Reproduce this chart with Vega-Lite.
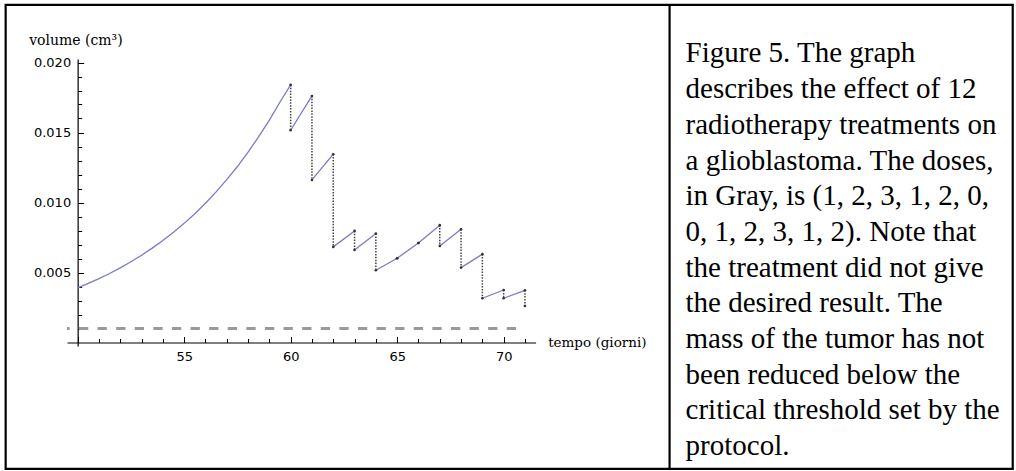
{
  "$schema": "https://vega.github.io/schema/vega-lite/v6.json",
  "background": "white",
  "padding": {"left": 4, "top": 3, "right": 2, "bottom": 1},
  "bounds": "flush",
  "spacing": 149.55,
  "config": {"view": {"stroke": null}},
  "datasets": {
    "curve": [
      {"t": 50, "v": 0.0039, "seg": 0},
      {"t": 50.5, "v": 0.00422, "seg": 0},
      {"t": 51, "v": 0.00456, "seg": 0},
      {"t": 51.5, "v": 0.00493, "seg": 0},
      {"t": 52, "v": 0.00533, "seg": 0},
      {"t": 52.5, "v": 0.00577, "seg": 0},
      {"t": 53, "v": 0.00623, "seg": 0},
      {"t": 53.5, "v": 0.00674, "seg": 0},
      {"t": 54, "v": 0.00728, "seg": 0},
      {"t": 54.5, "v": 0.00787, "seg": 0},
      {"t": 55, "v": 0.00851, "seg": 0},
      {"t": 55.5, "v": 0.0092, "seg": 0},
      {"t": 56, "v": 0.00995, "seg": 0},
      {"t": 56.5, "v": 0.01076, "seg": 0},
      {"t": 57, "v": 0.01163, "seg": 0},
      {"t": 57.5, "v": 0.01257, "seg": 0},
      {"t": 58, "v": 0.01359, "seg": 0},
      {"t": 58.5, "v": 0.0147, "seg": 0},
      {"t": 59, "v": 0.01589, "seg": 0},
      {"t": 59.5, "v": 0.01718, "seg": 0},
      {"t": 60, "v": 0.0184, "seg": 0},
      {"t": 60, "v": 0.01516, "seg": 1},
      {"t": 61, "v": 0.01761, "seg": 1},
      {"t": 61, "v": 0.01161, "seg": 2},
      {"t": 62, "v": 0.01345, "seg": 2},
      {"t": 62, "v": 0.00683, "seg": 3},
      {"t": 63, "v": 0.00797, "seg": 3},
      {"t": 63, "v": 0.00661, "seg": 4},
      {"t": 64, "v": 0.00778, "seg": 4},
      {"t": 64, "v": 0.00516, "seg": 5},
      {"t": 65, "v": 0.00602, "seg": 5},
      {"t": 66, "v": 0.00711, "seg": 5},
      {"t": 67, "v": 0.00838, "seg": 5},
      {"t": 67, "v": 0.0069, "seg": 6},
      {"t": 68, "v": 0.00809, "seg": 6},
      {"t": 68, "v": 0.00535, "seg": 7},
      {"t": 69, "v": 0.00631, "seg": 7},
      {"t": 69, "v": 0.00316, "seg": 8},
      {"t": 70, "v": 0.00375, "seg": 8},
      {"t": 70, "v": 0.00316, "seg": 9},
      {"t": 71, "v": 0.00373, "seg": 9}
    ],
    "doses": [
      {"day": 60, "pre": 0.0184, "post": 0.01516, "dose": 1},
      {"day": 61, "pre": 0.01761, "post": 0.01161, "dose": 2},
      {"day": 62, "pre": 0.01345, "post": 0.00683, "dose": 3},
      {"day": 63, "pre": 0.00797, "post": 0.00661, "dose": 1},
      {"day": 64, "pre": 0.00778, "post": 0.00516, "dose": 2},
      {"day": 65, "pre": 0.00602, "post": 0.00602, "dose": 0},
      {"day": 66, "pre": 0.00711, "post": 0.00711, "dose": 0},
      {"day": 67, "pre": 0.00838, "post": 0.0069, "dose": 1},
      {"day": 68, "pre": 0.00809, "post": 0.00535, "dose": 2},
      {"day": 69, "pre": 0.00631, "post": 0.00316, "dose": 3},
      {"day": 70, "pre": 0.00375, "post": 0.00316, "dose": 1},
      {"day": 71, "pre": 0.00373, "post": 0.00261, "dose": 2}
    ],
    "caption": [
      {"line": 1, "text": "Figure 5. The graph"},
      {"line": 2, "text": "describes the effect of 12"},
      {"line": 3, "text": "radiotherapy treatments on"},
      {"line": 4, "text": "a glioblastoma. The doses,"},
      {"line": 5, "text": "in Gray, is (1, 2, 3, 1, 2, 0,"},
      {"line": 6, "text": "0, 1, 2, 3, 1, 2). Note that"},
      {"line": 7, "text": "the treatment did not give"},
      {"line": 8, "text": "the desired result. The"},
      {"line": 9, "text": "mass of the tumor has not"},
      {"line": 10, "text": "been reduced below the"},
      {"line": 11, "text": "critical threshold set by the"},
      {"line": 12, "text": "protocol."}
    ]
  },
  "hconcat": [
    {
      "width": 468.6,
      "height": 287,
      "layer": [
        {
          "data": {"values": [{}]},
          "mark": {"type": "rect", "filled": false, "color": "black", "strokeWidth": 2.2},
          "encoding": {
            "x": {"datum": 46.62, "type": "quantitative", "scale": {"domain": [49.5, 71.5], "nice": false, "zero": false}},
            "x2": {"datum": 93.9},
            "y": {"datum": -0.009029, "type": "quantitative", "scale": {"domain": [-0.00025, 0.02025], "nice": false, "zero": false}},
            "y2": {"datum": 0.024114}
          }
        },
        {
          "data": {"values": [{}]},
          "mark": {"type": "rule", "color": "black", "strokeWidth": 2.2},
          "encoding": {
            "x": {"datum": 77.79, "type": "quantitative", "scale": {"domain": [49.5, 71.5], "nice": false, "zero": false}},
            "y": {"datum": -0.009029, "type": "quantitative", "scale": {"domain": [-0.00025, 0.02025], "nice": false, "zero": false}},
            "y2": {"datum": 0.024114}
          }
        },
        {
          "data": {"values": [{"threshold": 0.001}]},
          "mark": {"type": "rule", "color": "#9a9a9a", "strokeWidth": 3, "strokeDash": [9.3, 9.3], "strokeDashOffset": 6.65},
          "encoding": {
            "x": {"datum": 49.5, "type": "quantitative", "scale": {"domain": [49.5, 71.5], "nice": false, "zero": false}},
            "x2": {"datum": 70.75},
            "y": {"field": "threshold", "type": "quantitative", "scale": {"domain": [-0.00025, 0.02025], "nice": false, "zero": false}}
          }
        },
        {
          "data": {"name": "doses"},
          "transform": [{"filter": "datum.dose > 0"}],
          "mark": {"type": "rule", "color": "#444444", "strokeWidth": 1.5, "strokeDash": [1.5, 1.4]},
          "encoding": {
            "x": {"field": "day", "type": "quantitative", "scale": {"domain": [49.5, 71.5], "nice": false, "zero": false}},
            "y": {"field": "pre", "type": "quantitative", "scale": {"domain": [-0.00025, 0.02025], "nice": false, "zero": false}},
            "y2": {"field": "post"}
          }
        },
        {
          "data": {"name": "curve"},
          "mark": {"type": "line", "color": "#7a7ac8", "strokeWidth": 1.3},
          "encoding": {
            "x": {
              "field": "t", "type": "quantitative",
              "scale": {"domain": [49.5, 71.5], "nice": false, "zero": false},
              "axis": {
                "values": [50, 51, 52, 53, 54, 55, 56, 57, 58, 59, 60, 61, 62, 63, 64, 65, 66, 67, 68, 69, 70, 71],
                "tickCount": 200,
                "format": "d",
                "labelExpr": "datum.value % 5 === 0 && datum.value > 50 ? datum.label : ''",
                "labelFont": "DejaVu Sans", "labelFontSize": 13, "labelColor": "black",
                "labelPadding": 14, "labelOverlap": false, "labelFlush": false,
                "tickSize": {"condition": {"test": "datum.value % 5 === 0", "value": -6}, "value": -4},
                "tickColor": "black", "tickWidth": 1,
                "domainColor": "black", "domainWidth": 1.2,
                "grid": false, "offset": -3.5,
                "title": "tempo (giorni)",
                "titleFont": "DejaVu Serif", "titleFontSize": 13.5, "titleFontWeight": "normal", "titleColor": "black",
                "titleAngle": 0, "titleAlign": "left", "titleBaseline": "alphabetic",
                "titleX": 480.65, "titleY": 4.4
              }
            },
            "y": {
              "field": "v", "type": "quantitative",
              "scale": {"domain": [-0.00025, 0.02025], "nice": false, "zero": false},
              "axis": {
                "values": [0.001, 0.002, 0.003, 0.004, 0.005, 0.006, 0.007, 0.008, 0.009, 0.01, 0.011, 0.012, 0.013, 0.014, 0.015, 0.016, 0.017, 0.018, 0.019, 0.02],
                "tickCount": 200,
                "format": ".3f",
                "labelExpr": "round(datum.value * 1000) % 5 === 0 ? datum.label : ''",
                "labelFont": "DejaVu Sans", "labelFontSize": 13, "labelColor": "black",
                "labelPadding": 13, "labelOverlap": false, "labelFlush": false, "labelBaseline": "middle",
                "tickSize": {"condition": {"test": "round(datum.value * 1000) % 5 === 0", "value": -6}, "value": -4},
                "tickColor": "black", "tickWidth": 1,
                "domainColor": "black", "domainWidth": 1.2,
                "grid": false, "offset": -10.65,
                "title": "volume (cm³)",
                "titleFont": "DejaVu Serif", "titleFontSize": 14, "titleFontWeight": "normal", "titleColor": "black",
                "titleAngle": 0, "titleAlign": "left", "titleBaseline": "alphabetic",
                "titleX": -49, "titleY": -14.6
              }
            },
            "detail": {"field": "seg"}
          }
        },
        {
          "data": {"name": "doses"},
          "mark": {"type": "point", "filled": true, "color": "#333333", "size": 7, "opacity": 1},
          "encoding": {
            "x": {"field": "day", "type": "quantitative", "scale": {"domain": [49.5, 71.5], "nice": false, "zero": false}},
            "y": {"field": "pre", "type": "quantitative", "scale": {"domain": [-0.00025, 0.02025], "nice": false, "zero": false}}
          }
        },
        {
          "data": {"name": "doses"},
          "mark": {"type": "point", "filled": true, "color": "#333333", "size": 7, "opacity": 1},
          "encoding": {
            "x": {"field": "day", "type": "quantitative", "scale": {"domain": [49.5, 71.5], "nice": false, "zero": false}},
            "y": {"field": "post", "type": "quantitative", "scale": {"domain": [-0.00025, 0.02025], "nice": false, "zero": false}}
          }
        }
      ]
    },
    {
      "width": 300,
      "height": 380,
      "data": {"name": "caption"},
      "mark": {"type": "text", "align": "left", "baseline": "alphabetic", "font": "Liberation Serif", "fontSize": 29, "color": "black"},
      "encoding": {
        "x": {"datum": 0, "type": "quantitative", "scale": {"domain": [0, 1]}, "axis": null},
        "y": {"field": "line", "type": "quantitative", "scale": {"domain": [0.90476, 11.549], "reverse": true, "nice": false, "zero": false}, "axis": null},
        "text": {"field": "text"}
      }
    }
  ]
}
